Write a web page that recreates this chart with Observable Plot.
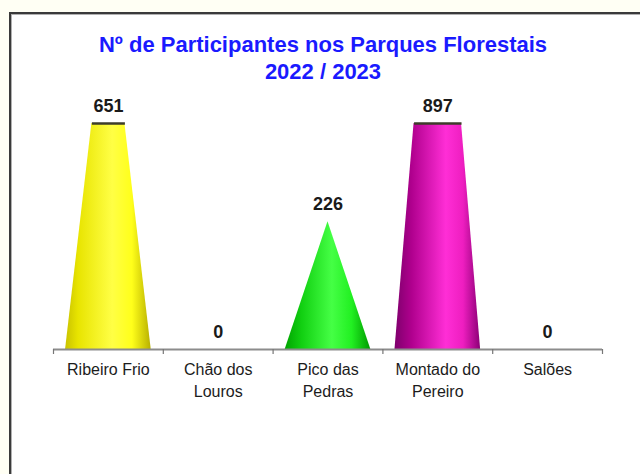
<!DOCTYPE html>
<html>
<head>
<meta charset="utf-8">
<script src="https://cdn.jsdelivr.net/npm/d3@7"></script>
<script src="https://cdn.jsdelivr.net/npm/@observablehq/plot@0.6"></script>
<style>
  html, body { margin: 0; padding: 0; width: 640px; height: 474px; overflow: hidden; background: #fffff4; font-family: "Liberation Sans", Arial, sans-serif; }
  #frame { position: absolute; left: 9px; top: 12px; width: 700px; height: 520px; background: #ffffff;
           border-left: 2px solid #3a3a3a; border-top: 2px solid #3a3a3a; box-shadow: inset 1px 1px 0 #b0b0b0; }
  #title { position: absolute; left: 0; top: 31px; width: 646px; text-align: center; color: #1a1aff;
           font-weight: bold; font-size: 22px; line-height: 27px; }
  #chart { position: absolute; left: 0; top: 90px; }
</style>
</head>
<body>
<div id="frame"></div>
<div id="title">Nº de Participantes nos Parques Florestais<br>2022 / 2023</div>
<div id="chart"></div>
<script>
const categories = ["Ribeiro Frio", "Chão dos Louros", "Pico das Pedras", "Montado do Pereiro", "Salões"];
const tickLabels = ["Ribeiro Frio", "Chão dos\nLouros", "Pico das\nPedras", "Montado do\nPereiro", "Salões"];
const values = [651, 0, 226, 897, 0];
const coneColors = ["yellow", "blue", "green", "magenta", "cyan"];
const yMax = 400; // axis maximum: taller cones are cut flat at the top

const halfWidth = 0.39;
const rows = categories.map((c, i) => ({cat: c, label: tickLabels[i], value: values[i], pos: i + 0.5, fill: `url(#cone-${coneColors[i]})`}));
const conePoints = rows.filter(d => d.value > 0).flatMap(d => [
  {cat: d.cat, x: d.pos - halfWidth, y: 0, fill: d.fill},
  {cat: d.cat, x: d.pos, y: d.value, fill: d.fill},
  {cat: d.cat, x: d.pos + halfWidth, y: 0, fill: d.fill}
]);
const caps = rows.filter(d => d.value > yMax).map(d => {
  const w = halfWidth * (1 - yMax / d.value);
  return {x1: d.pos - w, x2: d.pos + w, y: yMax};
});

const plot = Plot.plot({
  width: 640,
  height: 320,
  marginTop: 33,
  marginBottom: 61,
  marginLeft: 53,
  marginRight: 38,
  style: {fontFamily: "'Liberation Sans', Arial, sans-serif", background: "transparent", overflow: "visible"},
  x: {domain: [0, categories.length], axis: null},
  y: {domain: [0, yMax], axis: null},
  color: {type: "identity"},
  marks: [
    Plot.areaY(conePoints, {x: "x", y: "y", z: "cat", fill: "fill", curve: "linear", clip: true}),
    Plot.link(caps, {x1: "x1", x2: "x2", y1: "y", y2: "y", stroke: "#3d3d2a", strokeWidth: 2.5}),
    Plot.ruleY([0], {stroke: "#8c8c8c", strokeWidth: 2}),
    Plot.axisX(d3.range(categories.length + 1), {tickSize: 5, tickFormat: () => "", stroke: "#777", strokeWidth: 1.2}),
    Plot.text(rows, {x: "pos", y: d => Math.min(d.value, yMax), text: d => String(d.value), lineAnchor: "bottom", dy: -12,
      fontSize: 18, fontWeight: "bold", fill: "#1a1a1a"}),
    Plot.text(rows, {x: "pos", y: 0, text: "label", lineAnchor: "top", dy: 10, lineHeight: 1.38,
      fontSize: 16, fill: "#1c1c1c"})
  ]
});

const ns = "http://www.w3.org/2000/svg";
const defs = document.createElementNS(ns, "defs");
const grads = {
  yellow: [[0, "#c9c200"], [0.15, "#e8e400"], [0.55, "#ffff45"], [0.78, "#ffff1a"], [1, "#b8b000"]],
  green: [[0, "#00a400"], [0.2, "#12d012"], [0.55, "#45ff45"], [0.78, "#22f022"], [1, "#009a00"]],
  magenta: [[0, "#7e006c"], [0.2, "#b0008e"], [0.6, "#ff2ed6"], [0.8, "#ee1ec0"], [1, "#8c0076"]],
  blue: [[0, "#0000aa"], [1, "#0000ff"]],
  cyan: [[0, "#00aaaa"], [1, "#00ffff"]]
};
for (const [name, stops] of Object.entries(grads)) {
  const g = document.createElementNS(ns, "linearGradient");
  g.setAttribute("id", `cone-${name}`);
  g.setAttribute("x1", "0"); g.setAttribute("x2", "1"); g.setAttribute("y1", "0"); g.setAttribute("y2", "0");
  for (const [o, c] of stops) {
    const s = document.createElementNS(ns, "stop");
    s.setAttribute("offset", o);
    s.setAttribute("stop-color", c);
    g.appendChild(s);
  }
  defs.appendChild(g);
}
plot.insertBefore(defs, plot.firstChild);
document.getElementById("chart").appendChild(plot);
</script>
</body>
</html>
